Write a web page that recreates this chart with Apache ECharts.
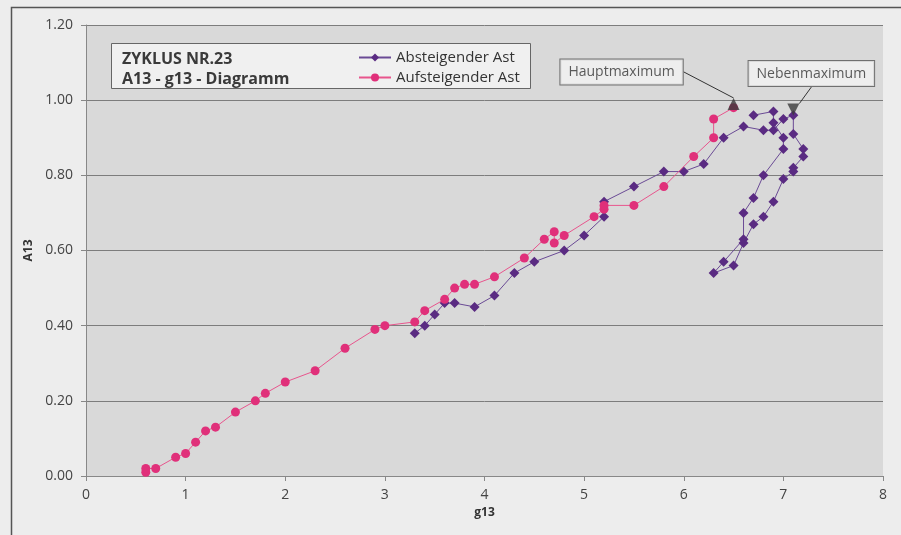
<!DOCTYPE html>
<html>
<head>
<meta charset="utf-8">
<script src="https://cdn.jsdelivr.net/npm/echarts@6/dist/echarts.min.js"></script>
<style>
html,body{margin:0;padding:0;background:#ededed;}
#c{width:901px;height:535px;}
</style>
</head>
<body>
<div id="c"></div>
<script>
// Absteigender Ast (purple, diamonds)
const absX = [3.3,3.4,3.5,3.6,3.7,3.9,4.1,4.3,4.5,4.8,5.0,5.2,5.2,5.5,5.8,6.0,6.2,6.4,6.6,6.8,6.9,7.0,7.1,7.1,7.2,7.2,7.1,7.1,7.0,6.9,6.8,6.7,6.6,6.5,6.3,6.4,6.6,6.6,6.7,6.8,7.0,7.0,6.9,6.9,6.7];
const absY = [0.38,0.40,0.43,0.46,0.46,0.45,0.48,0.54,0.57,0.60,0.64,0.69,0.73,0.77,0.81,0.81,0.83,0.90,0.93,0.92,0.92,0.95,0.96,0.91,0.87,0.85,0.82,0.81,0.79,0.73,0.69,0.67,0.62,0.56,0.54,0.57,0.63,0.70,0.74,0.80,0.87,0.90,0.94,0.97,0.96];
// Aufsteigender Ast (pink, circles)
const aufX = [0.6,0.6,0.7,0.9,1.0,1.1,1.2,1.3,1.5,1.7,1.8,2.0,2.3,2.6,2.9,3.0,3.3,3.4,3.6,3.7,3.8,3.9,4.1,4.4,4.6,4.7,4.7,4.8,5.1,5.2,5.2,5.5,5.8,6.1,6.3,6.3,6.5];
const aufY = [0.01,0.02,0.02,0.05,0.06,0.09,0.12,0.13,0.17,0.20,0.22,0.25,0.28,0.34,0.39,0.40,0.41,0.44,0.47,0.50,0.51,0.51,0.53,0.58,0.63,0.65,0.62,0.64,0.69,0.71,0.72,0.72,0.77,0.85,0.90,0.95,0.98];
// Maxima
const hauptMax = [6.5, 0.99];
const nebenMax = [7.1, 0.975];
const xTicks = [0,1,2,3,4,5,6,7,8];
const yTicks = [0,0.2,0.4,0.6,0.8,1.0,1.2];

const FONT = '"Open Sans", "Noto Sans", sans-serif';
const zip = (xs, ys) => xs.map((x, i) => [x, ys[i]]);

const chart = echarts.init(document.getElementById('c'), null, {renderer: 'canvas'});
const annLabel = {
  show: true, position: 'inside', color: '#333', fontFamily: FONT, fontSize: 14,
  backgroundColor: '#f2f2f2', borderColor: '#555', borderWidth: 1, padding: [6, 8, 5, 8]
};
chart.setOption({
  backgroundColor: '#ededed',
  animation: false,
  textStyle: {fontFamily: FONT},
  graphic: [
    {type: 'rect', left: 9, top: 5, shape: {width: 900, height: 540},
     style: {fill: 'none', stroke: '#555', lineWidth: 1.5}, silent: true, z: 100},
    {type: 'rect', left: 111, top: 43, shape: {width: 419, height: 45},
     style: {fill: '#f0f0f0', stroke: '#666', lineWidth: 1}, z: 5}
  ],
  title: {
    text: 'ZYKLUS NR.23\nA13 - g13 - Diagramm',
    left: 117, top: 44,
    textStyle: {fontFamily: FONT, fontSize: 16, fontWeight: 'bold', color: '#3a3a3a', lineHeight: 20},
    z: 10
  },
  legend: {
    data: ['Absteigender Ast', 'Aufsteigender Ast'],
    orient: 'vertical', left: 353, top: 45,
    itemWidth: 32, itemHeight: 10, itemGap: 5,
    textStyle: {fontFamily: FONT, fontSize: 15, color: '#333'},
    z: 10
  },
  grid: {
    left: 86, right: 18, top: 25, bottom: 59,
    show: true, backgroundColor: '#d9d9d9', borderWidth: 0
  },
  xAxis: {
    type: 'value', min: xTicks[0], max: xTicks[xTicks.length - 1], interval: 1,
    name: 'g13', nameLocation: 'middle', nameGap: 31,
    nameTextStyle: {fontFamily: FONT, fontSize: 12, fontWeight: 'bold', color: '#333'},
    axisLine: {show: true, lineStyle: {color: '#888', width: 1}},
    axisTick: {show: true, length: 5, lineStyle: {color: '#888'}},
    axisLabel: {fontFamily: FONT, fontSize: 14, color: '#444', margin: 12},
    splitLine: {show: false}
  },
  yAxis: {
    type: 'value', min: yTicks[0], max: yTicks[yTicks.length - 1], interval: 0.2,
    name: 'A13', nameLocation: 'middle', nameGap: 50, nameRotate: 90,
    nameTextStyle: {fontFamily: FONT, fontSize: 12, fontWeight: 'bold', color: '#333'},
    axisLine: {show: true, lineStyle: {color: '#888', width: 1}},
    axisTick: {show: true, length: 5, lineStyle: {color: '#888'}},
    axisLabel: {fontFamily: FONT, fontSize: 14, color: '#444', margin: 13,
                formatter: v => v.toFixed(2)},
    splitLine: {show: true, lineStyle: {color: '#7d7d7d', width: 1}}
  },
  series: [
    {
      name: 'Absteigender Ast', type: 'line', data: zip(absX, absY),
      symbol: 'diamond', symbolSize: 10, showAllSymbol: true,
      itemStyle: {color: '#5a2b82'},
      lineStyle: {color: '#6a4a95', width: 1}, z: 3
    },
    {
      name: 'Aufsteigender Ast', type: 'line', data: zip(aufX, aufY),
      symbol: 'circle', symbolSize: 9, showAllSymbol: true,
      itemStyle: {color: '#e0307a'},
      lineStyle: {color: '#e8558d', width: 1}, z: 4
    },
    {
      name: 'Hauptmaximum', type: 'scatter', data: [hauptMax],
      symbol: 'triangle', symbolSize: 12, itemStyle: {color: '#3a3a3a'}, z: 6,
      label: Object.assign({}, annLabel, {formatter: 'Hauptmaximum'}),
      labelLayout: {dx: -112, dy: -32},
      labelLine: {show: true, lineStyle: {color: '#333', width: 1}}
    },
    {
      name: 'Nebenmaximum', type: 'scatter', data: [nebenMax],
      symbol: 'triangle', symbolRotate: 180, symbolSize: 12, itemStyle: {color: '#3a3a3a'}, z: 6,
      label: Object.assign({}, annLabel, {formatter: 'Nebenmaximum'}),
      labelLayout: {dx: 18, dy: -36},
      labelLine: {show: true, lineStyle: {color: '#333', width: 1}}
    }
  ]
});
</script>
</body>
</html>
